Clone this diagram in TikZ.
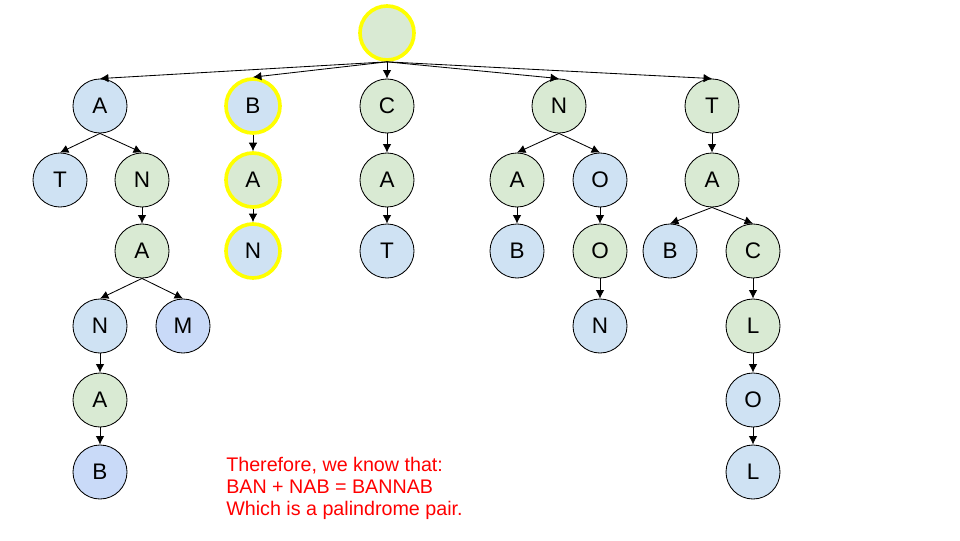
\documentclass[tikz,border=0pt]{standalone}
\usepackage{fontspec}
\setmainfont{Liberation Sans}
\usetikzlibrary{arrows.meta}
\definecolor{leafblue}{HTML}{CFE2F3}
\definecolor{nodegreen}{HTML}{D9EAD3}
\definecolor{deepblue}{HTML}{C9DAF8}
\definecolor{pathyellow}{HTML}{FFFF00}
\begin{document}
\begin{tikzpicture}[x=0.025cm,y=-0.025cm,
  letter/.style={circle,draw=black,line width=0.6pt,minimum size=1.35cm,inner sep=0pt,font=\fontsize{16}{19}\selectfont},
  bl/.style={letter,fill=leafblue},
  gr/.style={letter,fill=nodegreen},
  db/.style={letter,fill=deepblue},
  hit/.style={draw=pathyellow,line width=2.6pt},
  edge/.style={line width=0.6pt,-{Latex[length=6pt,width=6pt]}}]
\useasboundingbox (0,0) rectangle (960,540);

%root
\node[gr,hit] (root) at (387,33) {};

%first level
\node[bl] (a) at (100,106) {A};
\node[bl,hit] (b) at (253,106) {B};
\node[gr] (c) at (387,106) {C};
\node[gr] (n) at (559,106) {N};
\node[gr] (t) at (712,106) {T};

%second level
\node[bl] (at) at (60,180) {T};
\node[gr] (an) at (142,180) {N};
\node[gr,hit] (ba) at (253,180) {A};
\node[gr] (ca) at (387,180) {A};
\node[gr] (na) at (517,180) {A};
\node[bl] (no) at (600,180) {O};
\node[gr] (ta) at (712,180) {A};

%third level
\node[gr] (ana) at (142,251) {A};
\node[bl,hit] (ban) at (253,251) {N};
\node[bl] (cat) at (387,251) {T};
\node[bl] (nab) at (517,251) {B};
\node[gr] (noo) at (600,251) {O};
\node[bl] (tab) at (670,251) {B};
\node[gr] (tac) at (753,251) {C};

%fourth level
\node[bl] (anan) at (100,326) {N};
\node[db] (anam) at (183,326) {M};
\node[bl] (noon) at (600,326) {N};
\node[gr] (tacl) at (753,326) {L};

%fifth level
\node[gr] (anana) at (100,400) {A};
\node[bl] (taclo) at (753,400) {O};

%sixth level
\node[db] (ananab) at (100,472) {B};
\node[bl] (taclol) at (753,472) {L};

%edges from root
\draw[edge] (root.south) -- (a.north);
\draw[edge] (root.south) -- (b.north);
\draw[edge] (root.south) -- (c.north);
\draw[edge] (root.south) -- (n.north);
\draw[edge] (root.south) -- (t.north);

%edges below
\draw[edge] (a.south) -- (at.north);
\draw[edge] (a.south) -- (an.north);
\draw[edge] (an.south) -- (ana.north);
\draw[edge] (ana.south) -- (anan.north);
\draw[edge] (ana.south) -- (anam.north);
\draw[edge] (anan.south) -- (anana.north);
\draw[edge] (anana.south) -- (ananab.north);
\draw[edge] (b.south) -- (ba.north);
\draw[edge] (ba.south) -- (ban.north);
\draw[edge] (c.south) -- (ca.north);
\draw[edge] (ca.south) -- (cat.north);
\draw[edge] (n.south) -- (na.north);
\draw[edge] (n.south) -- (no.north);
\draw[edge] (na.south) -- (nab.north);
\draw[edge] (no.south) -- (noo.north);
\draw[edge] (noo.south) -- (noon.north);
\draw[edge] (t.south) -- (ta.north);
\draw[edge] (ta.south) -- (tab.north);
\draw[edge] (ta.south) -- (tac.north);
\draw[edge] (tac.south) -- (tacl.north);
\draw[edge] (tacl.south) -- (taclo.north);
\draw[edge] (taclo.south) -- (taclol.north);

%note
\node[anchor=north west,align=left,text=red,inner sep=0pt,font=\fontsize{14}{15.6}\selectfont] (note) at (226,457)
  {Therefore, we know that:\\BAN + NAB = BANNAB\\Which is a palindrome pair.};

\end{tikzpicture}
\end{document}
